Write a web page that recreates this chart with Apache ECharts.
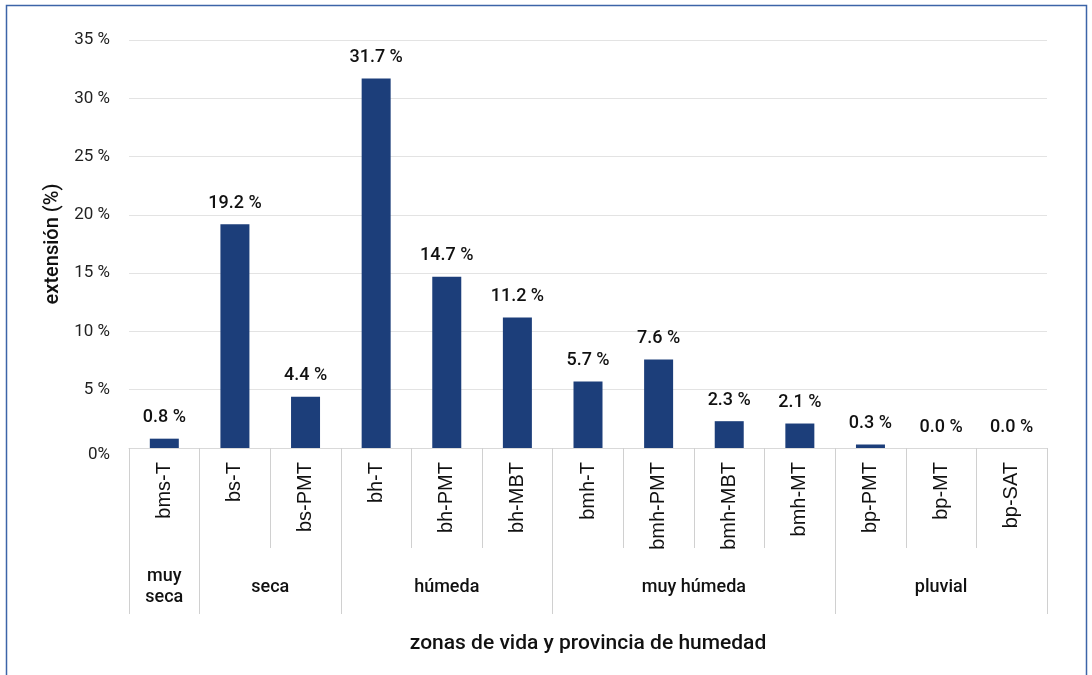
<!DOCTYPE html>
<html>
<head>
<meta charset="utf-8">
<script src="https://cdn.jsdelivr.net/npm/echarts@6/dist/echarts.min.js"></script>
<style>
html,body{margin:0;padding:0;background:#fff;}
#chart{width:1092px;height:675px;}
</style>
</head>
<body>
<div id="chart"></div>
<script>
const categories = ['bms-T','bs-T','bs-PMT','bh-T','bh-PMT','bh-MBT','bmh-T','bmh-PMT','bmh-MBT','bmh-MT','bp-PMT','bp-MT','bp-SAT'];
const values = [0.8, 19.2, 4.4, 31.7, 14.7, 11.2, 5.7, 7.6, 2.3, 2.1, 0.3, 0.0, 0.0];
const groupNames = ['muy\nseca','seca','húmeda','muy húmeda','pluvial'];
const groupSizes = [1, 2, 3, 4, 3];
const yTicks = [0, 5, 10, 15, 20, 25, 30, 35];

// group boundaries and centers in category index units
const groupBounds = [-0.5];
const groupCenters = [];
{
  let s = -0.5;
  groupSizes.forEach(n => { groupCenters.push(s + n / 2); s += n; groupBounds.push(s); });
}

const chart = echarts.init(document.getElementById('chart'));
const option = {
  animation: false,
  backgroundColor: '#fff',
  textStyle: { fontFamily: 'Roboto' },
  grid: { left: 129, right: 45, top: 40, bottom: 227, containLabel: false },
  xAxis: [
    {
      type: 'category',
      data: categories,
      axisLine: { show: true, lineStyle: { color: '#d9d9d9', width: 1 } },
      axisTick: { show: true, interval: 0, length: 100, lineStyle: { color: '#d0d0d0' } },
      axisLabel: {
        interval: 0, rotate: 90, margin: 14,
        fontFamily: 'Liberation Sans', fontSize: 20, color: '#111'
      }
    },
    {
      type: 'value',
      position: 'bottom',
      min: -0.5, max: 12.5,
      axisLine: { show: false },
      splitLine: { show: false },
      axisTick: { show: true, customValues: groupBounds, length: 166, lineStyle: { color: '#d0d0d0' } },
      axisLabel: {
        customValues: groupCenters,
        margin: 139,
        verticalAlign: 'middle',
        fontFamily: 'Roboto', fontWeight: 500, fontSize: 18, color: '#111', lineHeight: 21,
        formatter: function (v) {
          const i = groupCenters.findIndex(c => Math.abs(c - v) < 1e-6);
          return i >= 0 ? groupNames[i] : '';
        }
      },
      name: 'zonas de vida y provincia de humedad',
      nameLocation: 'middle',
      nameGap: 185,
      nameTextStyle: { fontFamily: 'Roboto', fontWeight: 500, fontSize: 21, color: '#111' }
    }
  ],
  yAxis: {
    type: 'value',
    min: 0, max: 35, interval: 5,
    axisLine: { show: false },
    axisTick: { show: false },
    splitLine: { lineStyle: { color: '#e3e3e3', width: 1 } },
    axisLabel: {
      margin: 19, fontFamily: 'Roboto', fontSize: 17, color: '#222',
      formatter: v => (v === 0 ? '{z|0%}' : v + ' %'),
      rich: { z: { fontFamily: 'Roboto', fontSize: 17, color: '#222', padding: [14, 0, 0, 0] } }
    },
    name: 'extensión (%)',
    nameLocation: 'middle',
    nameGap: 66,
    nameTextStyle: { fontFamily: 'Roboto', fontWeight: 500, fontSize: 20, color: '#111' }
  },
  series: [{
    type: 'bar',
    data: values,
    barWidth: 29,
    itemStyle: { color: '#1c3e7a' },
    label: {
      show: true, position: 'top', distance: 12,
      fontFamily: 'Roboto', fontWeight: 500, fontSize: 18, color: '#111',
      formatter: p => p.value.toFixed(1) + ' %'
    }
  }],
  graphic: [{
    type: 'rect',
    shape: { x: 6.5, y: 5.5, width: 1080, height: 720 },
    style: { fill: 'none', stroke: '#3c64a8', lineWidth: 1.5 },
    silent: true
  }]
};
chart.setOption(option);
</script>
</body>
</html>
